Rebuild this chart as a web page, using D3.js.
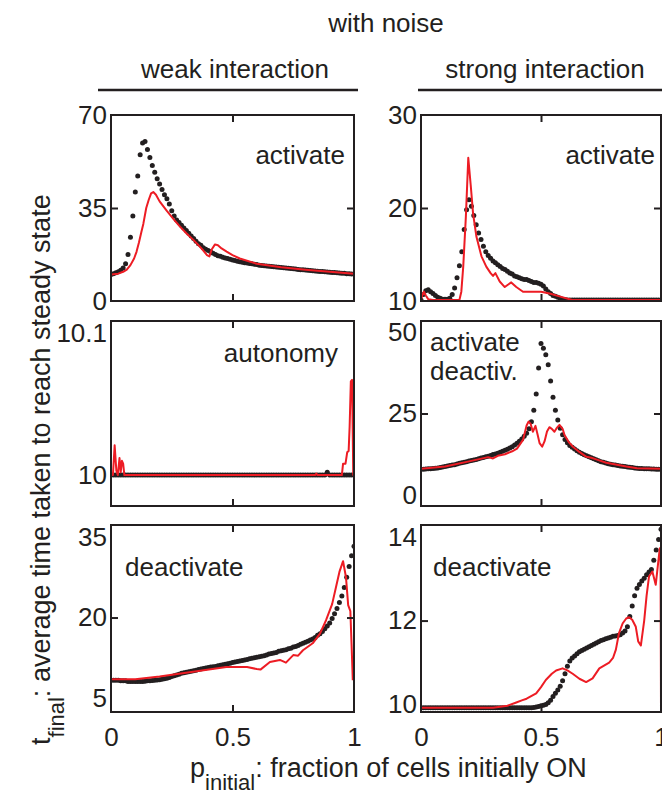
<!DOCTYPE html>
<html>
<head>
<meta charset="utf-8">
<script src="https://cdn.jsdelivr.net/npm/d3@7"></script>
<style>
  body { margin: 0; background: #fff; }
  text { font-family: "Liberation Sans", Arial, Helvetica, sans-serif; fill: #231f20; }
</style>
</head>
<body>
<div id="chart"></div>
<script>
// ---------- data ----------
// black dotted series are sampled on p_initial = 0, 0.01, ... 1
const xGrid = d3.range(0, 101).map(i => i / 100);

const blackWeakActivate = [
  10, 10.3, 10.6, 11, 11.6, 12.4, 14, 17.5, 24, 32, 41,
  47, 55, 59.5, 60, 57, 54, 51, 48.5, 46, 44,
  42, 40, 38.5, 36.5, 34, 32, 30.5, 29.5, 28.5, 27.5,
  26.5, 25.5, 24.5, 23.5, 22.5, 21.5, 21, 20, 19.5, 19,
  18.5, 18, 17.5, 17, 16.8, 16.5, 16.2, 16, 15.7, 15.4,
  15.2, 15, 14.8, 14.6, 14.4, 14.3, 14.1, 14, 13.8, 13.7,
  13.5, 13.4, 13.3, 13.2, 13.1, 13, 12.9, 12.8, 12.7, 12.6,
  12.5, 12.4, 12.3, 12.2, 12.1, 12, 11.9, 11.8, 11.8, 11.7,
  11.6, 11.5, 11.4, 11.3, 11.2, 11.1, 11.1, 11, 10.9, 10.8,
  10.7, 10.7, 10.6, 10.5, 10.4, 10.4, 10.3, 10.3, 10.2, 10.2
];
const blackStrongActivate = [
  10.1, 10.7, 11.1, 11.2, 11.0, 10.8, 10.6, 10.4, 10.3, 10.2, 10.2,
  10.2, 10.3, 10.7, 11.4, 12.5, 13.8, 15.3, 17.7, 19.8, 20.9,
  20.2, 19.2, 18.2, 17.3, 16.6, 15.9, 15.3, 14.9, 14.6, 14.3,
  14.1, 13.9, 13.7, 13.5, 13.4, 13.2, 13.0, 12.9, 12.7, 12.6,
  12.5, 12.4, 12.3, 12.3, 12.2, 12.1, 12.0, 12.0, 11.9, 11.8,
  11.6, 11.3, 11.0, 10.8, 10.6, 10.5, 10.4, 10.3, 10.2, 10.15,
  10.1, 10.1, 10.1, 10.1, 10.1, 10.1, 10.1, 10.1, 10.1, 10.1,
  10.1, 10.1, 10.1, 10.1, 10.1, 10.1, 10.1, 10.1, 10.1, 10.1,
  10.1, 10.1, 10.1, 10.1, 10.1, 10.1, 10.1, 10.1, 10.1, 10.1,
  10.1, 10.1, 10.1, 10.1, 10.1, 10.1, 10.1, 10.1, 10.1, 10.1
];
const blackWeakAutonomy = [
  10, 10, 10, 10, 10, 10, 10, 10, 10, 10, 10,
  10, 10, 10, 10, 10, 10, 10, 10, 10, 10,
  10, 10, 10, 10, 10, 10, 10, 10, 10, 10,
  10, 10, 10, 10, 10, 10, 10, 10, 10, 10,
  10, 10, 10, 10, 10, 10, 10, 10, 10, 10,
  10, 10, 10, 10, 10, 10, 10, 10, 10, 10,
  10, 10, 10, 10, 10, 10, 10, 10, 10, 10,
  10, 10, 10, 10, 10, 10, 10, 10, 10, 10,
  10, 10, 10, 10, 10, 10, 10, 10, 10.002, 10,
  10, 10, 10, 10, 10, 10, 10, 10, 10, 10
];
const blackStrongBoth = [
  7.9, 7.9, 7.95, 8.0, 8.05, 8.1, 8.2, 8.3, 8.4, 8.55, 8.7,
  8.85, 9.0, 9.15, 9.3, 9.5, 9.7, 9.85, 10.0, 10.2, 10.4,
  10.6, 10.75, 10.9, 11.1, 11.3, 11.5, 11.7, 11.9, 12.1, 12.4,
  12.6, 12.8, 13.1, 13.4, 13.7, 14.0, 14.4, 14.8, 15.3, 15.9,
  16.5, 17.2, 18.0, 18.9, 20.3, 22.5, 26, 31, 39, 46.5,
  45, 43, 40, 35, 30, 26, 23, 20.5, 18.5, 17,
  16, 15.2, 14.6, 14.1, 13.6, 13.1, 12.7, 12.3, 12.0, 11.7,
  11.4, 11.1, 10.8, 10.5, 10.2, 10.0, 9.8, 9.6, 9.45, 9.3,
  9.15, 9.0, 8.9, 8.8, 8.7, 8.6, 8.5, 8.4, 8.3, 8.2,
  8.15, 8.1, 8.05, 8.0, 8.0, 7.95, 7.95, 7.9, 7.9, 7.9
];
const blackWeakDeactivate = [
  8.3, 8.3, 8.3, 8.3, 8.2, 8.2, 8.2, 8.1, 8.1, 8.1, 8.1,
  8.1, 8.1, 8.1, 8.15, 8.2, 8.2, 8.25, 8.3, 8.35, 8.4,
  8.5, 8.6, 8.7, 8.85, 9.0, 9.15, 9.3, 9.45, 9.6, 9.7,
  9.8, 9.9, 10.0, 10.1, 10.2, 10.3, 10.4, 10.5, 10.6, 10.7,
  10.8, 10.85, 10.9, 11.0, 11.1, 11.2, 11.3, 11.4, 11.5, 11.6,
  11.7, 11.8, 11.9, 12.0, 12.1, 12.2, 12.3, 12.4, 12.5, 12.6,
  12.7, 12.8, 12.9, 13.0, 13.2, 13.3, 13.4, 13.5, 13.7, 13.8,
  13.9, 14.0, 14.2, 14.3, 14.5, 14.6, 14.8, 15.0, 15.2, 15.4,
  15.6, 15.8, 16.0, 16.3, 16.7, 17.0, 17.4, 17.9, 18.4, 19.0,
  19.8, 20.7, 21.7, 22.8, 24.0, 25.6, 27.5, 29.5, 31.5, 33.3
];
const blackStrongDeactivate = [
  9.9, 9.9, 9.9, 9.9, 9.9, 9.9, 9.9, 9.9, 9.9, 9.9, 9.9,
  9.9, 9.9, 9.9, 9.9, 9.9, 9.9, 9.9, 9.9, 9.9, 9.9,
  9.9, 9.9, 9.9, 9.9, 9.9, 9.9, 9.9, 9.9, 9.9, 9.9,
  9.9, 9.9, 9.9, 9.9, 9.9, 9.9, 9.9, 9.9, 9.9, 9.9,
  9.9, 9.9, 9.9, 9.9, 9.9, 9.9, 9.91, 9.92, 9.93, 9.95,
  9.96, 9.98, 10.02, 10.08, 10.17, 10.25, 10.33, 10.42, 10.55, 10.72,
  10.9, 11.03, 11.1, 11.15, 11.2, 11.25, 11.28, 11.31, 11.34, 11.37,
  11.4, 11.43, 11.46, 11.49, 11.52, 11.54, 11.56, 11.58, 11.6, 11.62,
  11.63, 11.64, 11.66, 11.7, 11.75, 11.85, 12.1, 12.35, 12.6, 12.78,
  12.87, 12.95, 13.02, 13.1, 13.17, 13.23, 13.45, 13.7, 13.95, 14.2
];

// red series: [p_initial, t_final]
const redWeakActivate = [
  [0,10],[0.03,10.3],[0.05,11],[0.065,11.8],[0.08,13.5],[0.095,16],[0.105,18.5],
  [0.115,22],[0.125,26],[0.133,29],[0.145,35],[0.155,38],[0.165,40.5],[0.174,41],
  [0.185,40],[0.2,37.5],[0.229,34],[0.26,30.5],[0.284,28],[0.31,25.5],[0.339,23],
  [0.36,21],[0.38,19],[0.395,17.3],[0.405,16.8],[0.415,19.5],[0.428,21.3],[0.44,21],
  [0.455,19.8],[0.476,18.6],[0.5,17.3],[0.53,16],[0.6,14],[0.7,12.7],[0.8,11.8],
  [0.9,11],[1,10.3]
];
const redStrongActivate = [
  [0,10.1],[0.005,10.6],[0.012,11.0],[0.02,10.6],[0.03,10.2],[0.05,10.1],[0.16,10.1],
  [0.168,11],[0.176,13.7],[0.187,19.1],[0.197,25.4],[0.207,22.5],[0.217,19.4],
  [0.231,16.9],[0.252,14.8],[0.272,13.7],[0.29,13],[0.30,12.7],[0.31,13],[0.328,12.1],
  [0.349,11.5],[0.365,11.8],[0.376,12.0],[0.397,11.5],[0.425,11.0],[0.5,11.0],
  [0.536,10.8],[0.577,10.5],[0.63,10.1],[1,10.1]
];
const redWeakAutonomy = [
  [0,10],[0.008,10],[0.015,10.021],[0.022,10.003],[0.028,10],[0.035,10.012],[0.04,10.002],
  [0.045,10.01],[0.05,10.008],[0.055,10],[0.06,10],[0.84,10],[0.845,10.001],[0.85,10],
  [0.95,10],[0.955,10.008],[0.965,10.008],[0.972,10.016],[0.978,10.017],[0.982,10.034],
  [0.987,10.066],[0.992,10.067],[0.997,10],[1,10]
];
const redStrongBoth = [
  [0,8],[0.1,8.7],[0.2,10.3],[0.28,11.6],[0.3,11.2],[0.32,12.0],[0.35,12.5],[0.38,13.4],
  [0.40,14.2],[0.425,16.9],[0.44,21.3],[0.448,22.5],[0.457,21.8],[0.466,19.4],[0.477,21.2],
  [0.486,18.5],[0.494,15.9],[0.505,14.8],[0.515,16.5],[0.525,19.5],[0.535,20.8],[0.545,20.3],
  [0.556,19.4],[0.565,20.5],[0.577,21.5],[0.59,20.3],[0.598,18.4],[0.615,16.3],[0.633,14.8],
  [0.66,13.2],[0.689,11.7],[0.71,11.4],[0.73,10.9],[0.772,9.9],[0.8,9.5],[0.855,8.7],
  [0.9,8.2],[1,8.0]
];
const redWeakDeactivate = [
  [0,8.5],[0.1,8.5],[0.2,9.0],[0.338,9.9],[0.475,10.8],[0.56,10.8],[0.6,10.4],[0.615,10.3],
  [0.654,11.7],[0.695,12.1],[0.72,11.6],[0.75,13.0],[0.77,12.9],[0.79,13.9],[0.83,15.2],
  [0.86,17.0],[0.885,19.5],[0.91,22.5],[0.926,25.7],[0.94,28.5],[0.955,30.5],[0.967,27.5],
  [0.976,22.3],[0.985,21.2],[0.99,15],[0.995,8.3]
];
const redStrongDeactivate = [
  [0,9.9],[0.3,9.9],[0.36,9.95],[0.397,10.03],[0.42,10.08],[0.44,10.12],[0.48,10.25],
  [0.5,10.4],[0.52,10.57],[0.545,10.72],[0.563,10.8],[0.59,10.85],[0.61,10.8],[0.632,10.72],
  [0.66,10.6],[0.688,10.52],[0.715,10.61],[0.743,10.85],[0.784,10.99],[0.8,11.1],[0.812,11.3],
  [0.825,11.7],[0.84,11.93],[0.855,12.05],[0.867,12.08],[0.88,12.02],[0.895,11.85],
  [0.905,11.5],[0.916,11.4],[0.93,12.0],[0.94,12.6],[0.95,13.06],[0.964,13.18],[0.972,13.0],
  [0.978,12.86],[0.988,13.38],[0.995,13.74],[0.998,13.7],[1,9.9]
];

// tick labels
const xTickValues = [0, 0.5, 1];
const yTicksWeakActivate = [0, 35, 70];
const yTicksStrongActivate = [10, 20, 30];
const yTicksWeakAutonomy = [10, 10.1];
const yTicksStrongBoth = [0, 25, 50];
const yTicksWeakDeactivate = [5, 20, 35];
const yTicksStrongDeactivate = [10, 12, 14];

const columnTitles = ["weak interaction", "strong interaction"];

// ---------- layout ----------
const width = 662, height = 797;
const cols = [{ x0: 111, x1: 354 }, { x0: 421, x1: 661 }];
const rows = [{ y0: 115, y1: 301 }, { y0: 321, y1: 506 }, { y0: 525, y1: 712 }];
const ink = "#231f20", red = "#ed1c24";
const font = '"Liberation Sans", Arial, Helvetica, sans-serif';

const panels = [
  { col: 0, row: 0, domain: [0, 70], ticks: yTicksWeakActivate, mid: [35],
    black: blackWeakActivate, red: redWeakActivate,
    label: ["activate"], anchor: "end", lx: 345, ly: 164 },
  { col: 1, row: 0, domain: [10, 30], ticks: yTicksStrongActivate, mid: [20],
    black: blackStrongActivate, red: redStrongActivate,
    label: ["activate"], anchor: "end", lx: 655, ly: 164 },
  { col: 0, row: 1, domain: [9.9782, 10.1085], ticks: yTicksWeakAutonomy, mid: [],
    black: blackWeakAutonomy, red: redWeakAutonomy,
    label: ["autonomy"], anchor: "end", lx: 338, ly: 362 },
  { col: 1, row: 1, domain: [-3.4, 53.4], ticks: yTicksStrongBoth, mid: [25],
    black: blackStrongBoth, red: redStrongBoth,
    label: ["activate", "deactiv."], anchor: "start", lx: 430, ly: 351 },
  { col: 0, row: 2, domain: [2.4, 37.24], ticks: yTicksWeakDeactivate, mid: [20],
    black: blackWeakDeactivate, red: redWeakDeactivate,
    label: ["deactivate"], anchor: "start", lx: 125, ly: 576 },
  { col: 1, row: 2, domain: [9.8, 14.3], ticks: yTicksStrongDeactivate, mid: [12],
    black: blackStrongDeactivate, red: redStrongDeactivate,
    label: ["deactivate"], anchor: "start", lx: 433, ly: 576 }
];

const svg = d3.select("#chart").append("svg")
  .attr("width", width)
  .attr("height", height);

function styleAxis(g) {
  g.select(".domain").remove();
  g.attr("font-family", font).attr("font-size", 26).attr("color", ink);
  g.selectAll("line").attr("stroke", ink).attr("stroke-width", 2);
}

panels.forEach((p, i) => {
  const c = cols[p.col], r = rows[p.row];
  const x = d3.scaleLinear().domain([0, 1]).range([c.x0, c.x1]);
  const y = d3.scaleLinear().domain(p.domain).range([r.y1, r.y0]);

  const g = svg.append("g");
  g.append("clipPath").attr("id", "clip" + i)
    .append("rect")
    .attr("x", c.x0).attr("y", r.y0)
    .attr("width", c.x1 - c.x0).attr("height", r.y1 - r.y0);

  const plot = g.append("g").attr("clip-path", `url(#clip${i})`);

  // black dots
  plot.selectAll("circle")
    .data(p.black)
    .join("circle")
    .attr("cx", (d, j) => x(xGrid[j]))
    .attr("cy", d => y(d))
    .attr("r", 2.5)
    .attr("fill", ink);

  // red line
  plot.append("path")
    .datum(p.red)
    .attr("fill", "none")
    .attr("stroke", red)
    .attr("stroke-width", 2)
    .attr("stroke-linejoin", "round")
    .attr("d", d3.line().x(d => x(d[0])).y(d => y(d[1])));

  // y tick labels
  g.append("g")
    .attr("transform", `translate(${c.x0},0)`)
    .call(d3.axisLeft(y).tickValues(p.ticks).tickSize(0).tickPadding(4)
      .tickFormat(d3.format("")))
    .call(styleAxis);

  // inward tick marks
  g.append("g").attr("transform", `translate(${c.x0},0)`)
    .call(d3.axisLeft(y).tickValues(p.mid).tickSize(-7).tickFormat(""))
    .call(styleAxis);
  g.append("g").attr("transform", `translate(${c.x1},0)`)
    .call(d3.axisRight(y).tickValues(p.mid).tickSize(-7).tickFormat(""))
    .call(styleAxis);
  g.append("g").attr("transform", `translate(0,${r.y0})`)
    .call(d3.axisTop(x).tickValues([0.5]).tickSize(-7).tickFormat(""))
    .call(styleAxis);
  g.append("g").attr("transform", `translate(0,${r.y1})`)
    .call(d3.axisBottom(x).tickValues([0.5]).tickSize(-7).tickFormat(""))
    .call(styleAxis);

  // x tick labels on the bottom row
  if (p.row === 2) {
    g.append("g").attr("transform", `translate(0,${r.y1})`)
      .call(d3.axisBottom(x).tickValues(xTickValues).tickSize(0).tickPadding(16)
        .tickFormat(d3.format("")))
      .call(styleAxis);
  }

  // frame
  g.append("rect")
    .attr("x", c.x0).attr("y", r.y0)
    .attr("width", c.x1 - c.x0).attr("height", r.y1 - r.y0)
    .attr("fill", "none")
    .attr("stroke", ink)
    .attr("stroke-width", 2);

  // panel label
  const t = g.append("text")
    .attr("x", p.lx).attr("y", p.ly)
    .attr("text-anchor", p.anchor)
    .attr("font-size", 26);
  p.label.forEach((s, k) => {
    t.append("tspan").attr("x", p.lx).attr("dy", k === 0 ? 0 : 29).text(s);
  });
});

// titles
svg.append("text")
  .attr("x", 386).attr("y", 32)
  .attr("text-anchor", "middle")
  .attr("font-size", 26)
  .text("with noise");

const titleSpans = [{ cx: 235, x0: 98, x1: 358 }, { cx: 545, x0: 418, x1: 662 }];
columnTitles.forEach((s, i) => {
  svg.append("text")
    .attr("x", titleSpans[i].cx).attr("y", 78)
    .attr("text-anchor", "middle")
    .attr("font-size", 26)
    .text(s);
  svg.append("line")
    .attr("x1", titleSpans[i].x0).attr("x2", titleSpans[i].x1)
    .attr("y1", 90).attr("y2", 90)
    .attr("stroke", ink)
    .attr("stroke-width", 2.5);
});

// axis labels
const yLab = svg.append("text")
  .attr("transform", "translate(50,745) rotate(-90)")
  .attr("font-size", 27);
yLab.append("tspan").text("t");
yLab.append("tspan").attr("dy", 14).attr("font-size", 22).text("final");
yLab.append("tspan").attr("dy", -14).text(": average time taken to reach steady state");

const xLab = svg.append("text")
  .attr("x", 190).attr("y", 777)
  .attr("font-size", 27);
xLab.append("tspan").text("p");
xLab.append("tspan").attr("dy", 13).attr("font-size", 22).text("initial");
xLab.append("tspan").attr("dy", -13).text(": fraction of cells initially ON");
</script>
</body>
</html>
